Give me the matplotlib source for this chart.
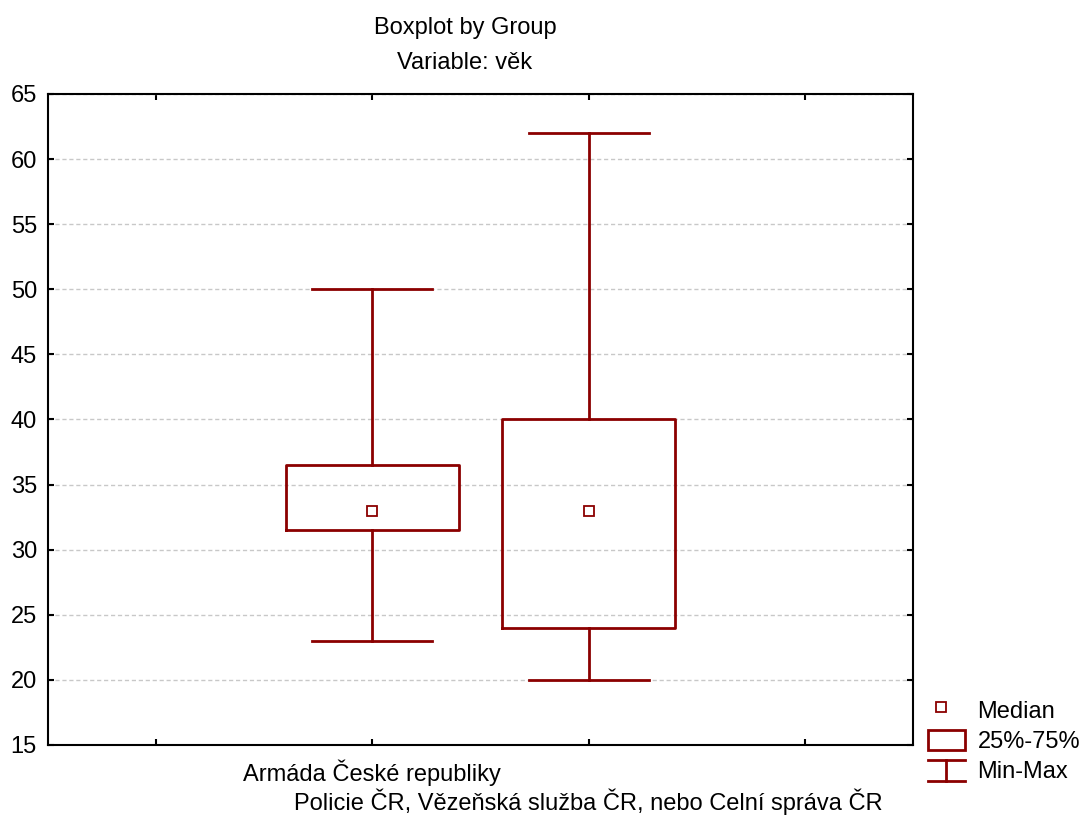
import matplotlib
matplotlib.use('Agg')
import matplotlib.pyplot as plt
from matplotlib.lines import Line2D
from matplotlib.patches import Rectangle
from matplotlib.legend_handler import HandlerBase

plt.rcParams['font.family'] = ['Liberation Sans', 'DejaVu Sans']

# data
groups = ['Armáda České republiky',
          'Policie ČR, Vězeňská služba ČR, nebo Celní správa ČR']
medians = [33, 33]
q1 = [31.5, 24]
q3 = [36.5, 40]
mins = [23, 20]
maxs = [50, 62]

red = '#8b0000'
fs = 17

fig = plt.figure(figsize=(10.83, 8.15), dpi=100)
ax = fig.add_axes([0.0443, 0.0859, 0.7988, 0.7988])

positions = [1, 2]
stats = [dict(med=m, q1=a, q3=b, whislo=lo, whishi=hi, label=g)
         for m, a, b, lo, hi, g in zip(medians, q1, q3, mins, maxs, groups)]
ax.bxp(stats, positions=positions, widths=0.8, showfliers=False,
       boxprops=dict(color=red, linewidth=2),
       whiskerprops=dict(color=red, linewidth=2),
       capprops=dict(color=red, linewidth=2),
       medianprops=dict(linewidth=0), capwidths=0.555)
ax.plot(positions, medians, 's', markersize=7, markerfacecolor='white',
        markeredgecolor=red, markeredgewidth=1.3, linestyle='none', zorder=5)

ax.set_xlim(-0.5, 3.5)
ax.set_ylim(15, 65)
ax.set_yticks(range(15, 66, 5))
ax.set_xticks([0, 1, 2, 3])
ax.set_xticklabels(['', groups[0], groups[1], ''])
ax.tick_params(direction='in', length=4, width=1.5, labelsize=fs,
               top=True, right=True)
ax.tick_params(axis='y', pad=8)
ax.tick_params(axis='x', pad=10.5)
# second category label sits one line lower, like in the reference
ax.xaxis.get_major_ticks()[2].set_pad(31.5)
for s in ax.spines.values():
    s.set_linewidth(1.5)
ax.yaxis.grid(True, linestyle=(0, (3, 2)), color='#c8c8c8', linewidth=1)
ax.set_axisbelow(True)

fig.text(465 / 1083, 1 - 28 / 815, 'Boxplot by Group', ha='center', va='center', fontsize=fs)
fig.text(465 / 1083, 1 - 63 / 815, 'Variable: věk', ha='center', va='center', fontsize=fs)


class MinMaxHandler(HandlerBase):
    def create_artists(self, legend, orig, xd, yd, w, h, fontsize, trans):
        x0, x1 = -xd, -xd + w
        xm = (x0 + x1) / 2
        y0, y1 = -yd - 1, -yd + h + 1
        arts = [Line2D([x0, x1], [y0, y0]), Line2D([x0, x1], [y1, y1]),
                Line2D([xm, xm], [y0, y1])]
        for a in arts:
            a.set_color(red)
            a.set_linewidth(2)
            a.set_transform(trans)
        return arts


class BoxHandler(HandlerBase):
    def create_artists(self, legend, orig, xd, yd, w, h, fontsize, trans):
        r = Rectangle((-xd, -yd - 1), w, h + 2, facecolor='white',
                      edgecolor=red, linewidth=2, transform=trans)
        return [r]


class MedHandler(HandlerBase):
    def create_artists(self, legend, orig, xd, yd, w, h, fontsize, trans):
        m = Line2D([-xd + w / 2 - 4], [-yd + h / 2 + 2], marker='s', markersize=7,
                   markerfacecolor='white', markeredgecolor=red,
                   markeredgewidth=1.3, linestyle='none', transform=trans)
        return [m]


h_med = Line2D([], [])
h_box = Rectangle((0, 0), 1, 1)
h_mm = Line2D([], [])
fig.legend([h_med, h_box, h_mm], ['Median', '25%-75%', 'Min-Max'],
           handler_map={h_med: MedHandler(), h_box: BoxHandler(), h_mm: MinMaxHandler()},
           loc='upper left', bbox_to_anchor=(928 / 1083, 1 - 701 / 815),
           frameon=False, fontsize=fs, handlelength=1.55, handleheight=0.8,
           handletextpad=0.55, labelspacing=0.33, borderpad=0, borderaxespad=0)

fig.savefig('out.png', dpi=100)
